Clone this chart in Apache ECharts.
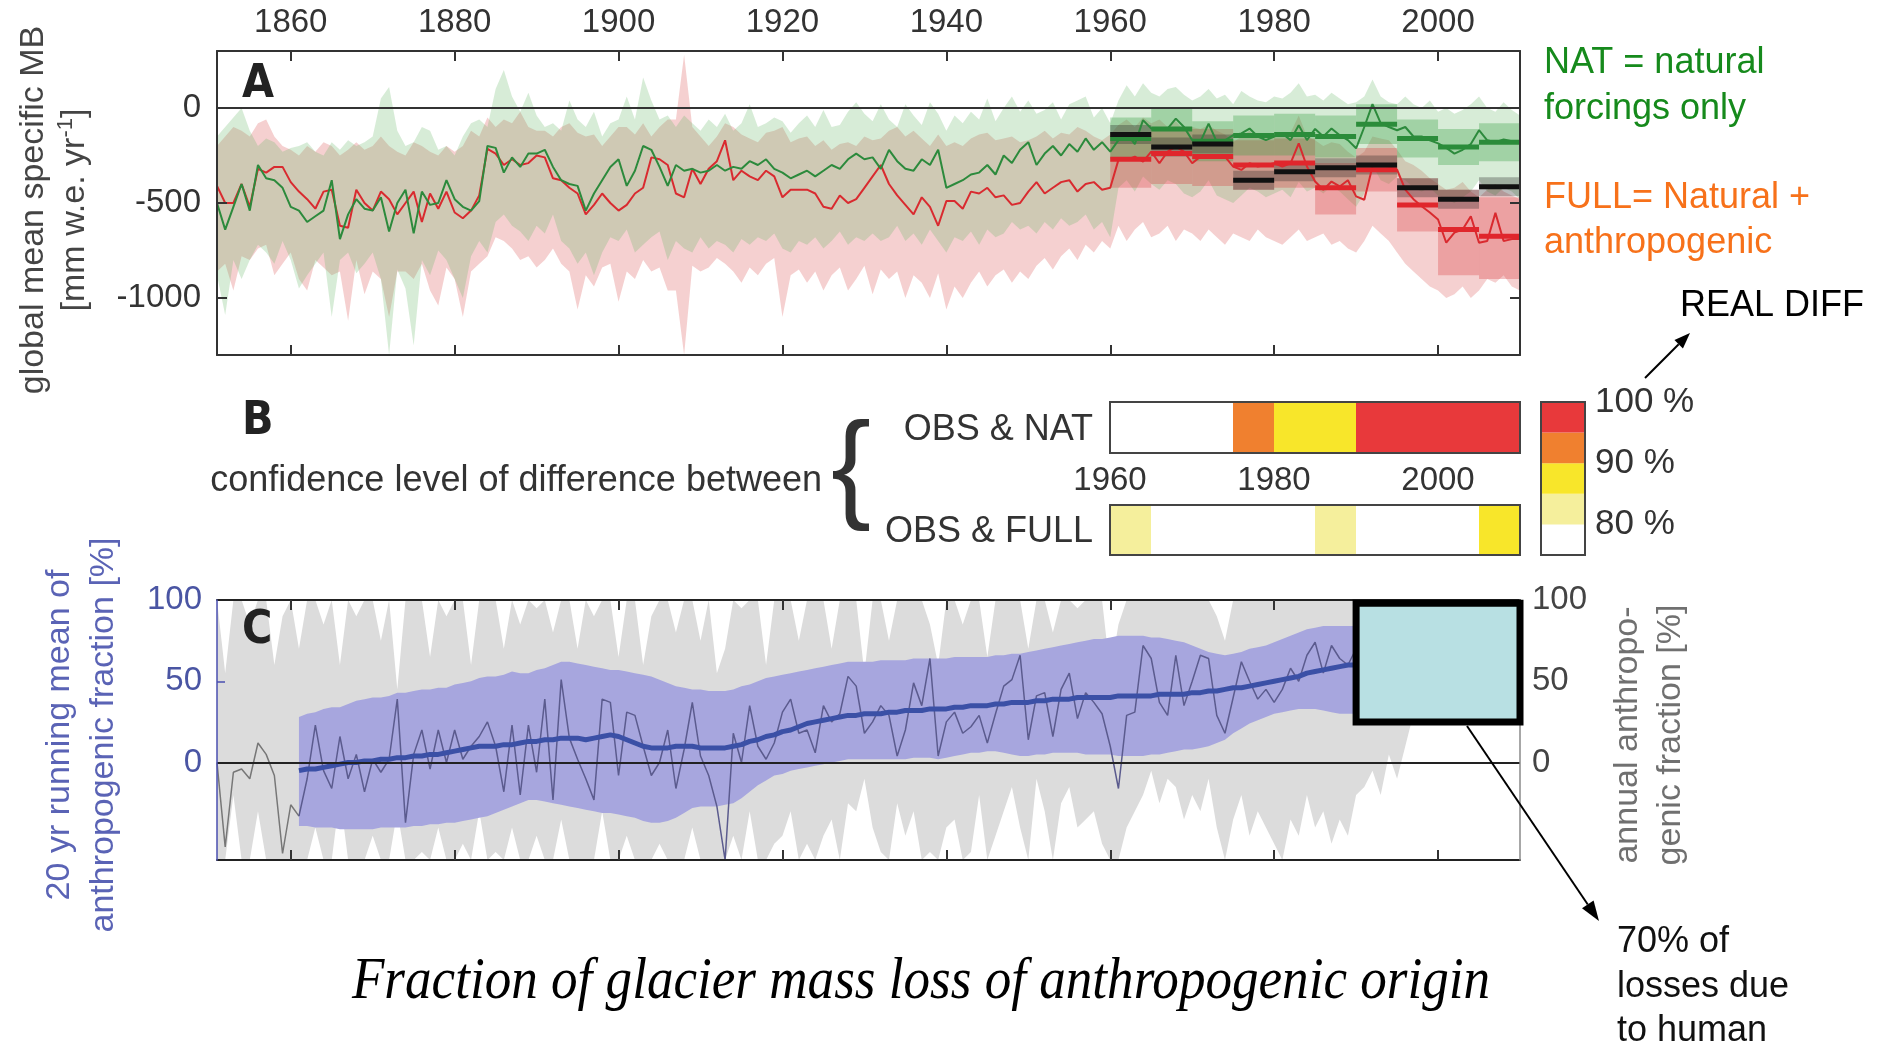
<!DOCTYPE html>
<html>
<head>
<meta charset="utf-8">
<title>Fraction of glacier mass loss of anthropogenic origin</title>
<script src="https://cdn.jsdelivr.net/npm/echarts@6.0.0/dist/echarts.min.js"></script>
<style>
html,body{margin:0;padding:0;background:#ffffff;}
#chart{width:1888px;height:1048px;}
</style>
</head>
<body>
<div id="chart"></div>
<script>
// ================= DATA =================
const YEAR0 = 1851;        // first year of annual series (panels A and C)
const RUN_YEAR0 = 1861;    // first year of the 20-yr running mean (panel C)
const yearTicks = [1860, 1880, 1900, 1920, 1940, 1960, 1980, 2000];
const mbTicks = [-1000, -500, 0];
const fracTicks = [0, 50, 100];
const bYearTicks = [1960, 1980, 2000];
const pctTicks = [80, 90, 100];

// Panel A: global mean specific mass balance (mm w.e./yr), 1851-2010
const natLine = [
 -500,-640,-520,-400,-540,-300,-370,-380,-420,-520,
 -540,-600,-570,-540,-380,-690,-560,-480,-530,-540,
 -470,-650,-500,-430,-660,-440,-510,-500,-380,-480,
 -520,-540,-490,-200,-210,-340,-260,-310,-240,-240,
 -220,-310,-380,-400,-410,-540,-450,-380,-310,-270,
 -410,-330,-200,-220,-310,-410,-300,-330,-320,-340,
 -330,-300,-330,-310,-320,-280,-300,-270,-320,-340,
 -370,-350,-330,-360,-330,-300,-320,-270,-240,-270,
 -260,-320,-220,-280,-320,-330,-270,-300,-220,-420,
 -400,-380,-350,-340,-300,-350,-250,-290,-220,-180,
 -300,-240,-200,-250,-190,-230,-160,-220,-180,-230,
 -169,-134,-190,-64,-108,-115,-108,-56,-100,-169,
 -178,-82,-178,-170,-143,-134,-108,-150,-169,-150,
 -134,-169,-91,-169,-110,-150,-108,-143,-169,-212,
 -100,20,-80,-100,-117,-100,-150,-150,-170,-186,
 -210,-240,-220,-190,-117,-170,-180,-165,-175,-186];
const fullLine = [
 -410,-500,-500,-400,-520,-320,-340,-310,-310,-390,
 -440,-480,-530,-440,-430,-620,-630,-430,-500,-540,
 -440,-480,-560,-500,-440,-600,-450,-530,-440,-550,
 -580,-540,-460,-215,-240,-300,-270,-300,-290,-250,
 -260,-370,-380,-420,-450,-560,-510,-450,-500,-540,
 -510,-450,-420,-260,-270,-300,-450,-470,-320,-400,
 -320,-280,-170,-380,-330,-360,-380,-330,-360,-470,
 -430,-430,-430,-450,-520,-530,-460,-500,-480,-420,
 -360,-300,-400,-460,-510,-560,-470,-520,-620,-490,
 -490,-530,-440,-450,-420,-470,-460,-510,-500,-440,
 -390,-450,-420,-390,-380,-440,-400,-390,-430,-420,
 -273,-273,-256,-282,-230,-291,-230,-204,-230,-291,
 -256,-247,-256,-256,-308,-326,-291,-308,-300,-291,
 -308,-291,-186,-308,-387,-430,-387,-413,-380,-465,
 -483,-308,-300,-310,-325,-430,-480,-517,-550,-587,
 -709,-656,-640,-570,-709,-700,-552,-700,-690,-690];
const natHi = [
 -150,-100,-50,0,-120,-200,-160,-180,-230,-210,
 -200,-180,-230,-250,-180,-220,-170,-200,-180,-150,
 50,110,-120,-200,-180,-100,-120,-220,-200,-250,
 -150,-80,-60,-100,100,200,60,-20,80,-40,
 -100,-80,-120,40,-60,-100,-20,-150,-80,-60,
 60,-60,160,40,-60,-40,-100,-40,-80,-120,
 -60,-100,-30,-120,-80,20,-100,-80,-50,-70,
 -130,-80,-40,-100,-10,-100,-90,-20,30,-30,
 -70,20,-60,-100,20,-40,-90,30,-30,-120,
 -40,-80,-20,-60,50,-70,0,60,-20,40,
 -30,-10,30,-60,20,40,60,-50,0,-80,
 40,120,60,130,80,60,100,110,70,40,
 60,100,50,70,20,90,60,40,30,60,
 50,80,130,60,70,40,80,50,20,30,
 60,150,60,30,20,60,20,0,40,-20,
 0,-30,-10,20,60,0,-20,30,-10,-40];
const natLo = [
 -880,-1090,-800,-900,-800,-720,-760,-820,-700,-800,
 -950,-880,-820,-760,-1100,-800,-760,-870,-820,-760,
 -900,-1300,-850,-950,-1250,-800,-880,-750,-800,-900,
 -1000,-780,-700,-760,-600,-560,-620,-650,-700,-620,
 -660,-560,-700,-740,-820,-760,-880,-760,-680,-700,
 -640,-760,-720,-680,-650,-800,-700,-740,-760,-680,
 -740,-700,-720,-760,-690,-720,-680,-700,-660,-740,
 -760,-700,-720,-680,-740,-700,-650,-720,-680,-700,
 -660,-700,-680,-620,-700,-660,-720,-640,-700,-760,
 -680,-700,-650,-720,-640,-680,-660,-600,-640,-620,
 -660,-600,-640,-580,-620,-600,-560,-640,-600,-680,
 -420,-380,-440,-360,-400,-430,-380,-400,-450,-470,
 -440,-380,-460,-480,-500,-460,-420,-440,-470,-450,
 -430,-470,-390,-440,-420,-450,-410,-440,-480,-520,
 -450,-300,-380,-400,-360,-380,-420,-440,-420,-460,
 -480,-500,-470,-440,-380,-440,-460,-420,-440,-480];
const fullHi = [
 -200,-150,-100,-120,-150,-80,-60,-150,-200,-220,
 -250,-200,-230,-180,-200,-250,-220,-180,-220,-200,
 -150,-200,-230,-250,-180,-200,-230,-250,-200,-230,
 -200,-120,-150,-50,-100,-60,-80,-20,-100,-120,
 -120,-150,-100,-80,-130,-150,-140,-200,-150,-100,
 -100,-140,-80,-150,-100,-60,-60,280,-100,-150,
 -200,-150,-80,-100,-140,-160,-180,-130,-120,-100,
 -180,-160,-150,-200,-170,-220,-190,-180,-200,-150,
 -170,-160,-120,-100,-150,-120,-160,-200,-140,-200,
 -180,-200,-160,-140,-130,-170,-160,-150,-180,-170,
 -150,-120,-160,-130,-140,-100,-120,-150,-170,-140,
 -90,-60,-100,-50,-80,-60,-100,-70,-120,-100,
 -110,-90,-120,-140,-180,-150,-120,-160,-140,-130,
 -150,-130,-40,-150,-170,-200,-180,-190,-230,-260,
 -230,-150,-160,-170,-220,-280,-300,-330,-370,-400,
 -430,-420,-390,-440,-470,-430,-400,-440,-460,-480];
const fullLo = [
 -860,-820,-960,-780,-800,-740,-720,-880,-820,-760,
 -900,-960,-800,-840,-880,-860,-1120,-800,-980,-860,
 -900,-1100,-860,-860,-900,-820,-960,-1040,-840,-900,
 -1100,-860,-820,-780,-680,-700,-740,-800,-780,-840,
 -800,-740,-820,-860,-1060,-880,-940,-840,-820,-1020,
 -860,-900,-800,-860,-840,-960,-960,-1300,-830,-860,
 -840,-790,-820,-860,-920,-840,-880,-820,-790,-1100,
 -880,-850,-920,-860,-960,-880,-840,-960,-900,-830,
 -980,-850,-900,-860,-1000,-880,-920,-1000,-870,-1060,
 -940,-1000,-920,-860,-940,-880,-850,-920,-860,-900,
 -830,-790,-850,-780,-740,-800,-720,-760,-700,-740,
 -620,-700,-640,-600,-680,-660,-620,-700,-640,-660,
 -700,-640,-680,-720,-660,-680,-700,-640,-680,-700,
 -720,-680,-640,-700,-680,-660,-720,-700,-740,-760,
 -700,-620,-660,-700,-760,-820,-860,-900,-940,-960,
 -1000,-980,-940,-1000,-960,-900,-920,-880,-940,-960];

// 5-year blocks after 1960 (panel A)
const binStart = [1960, 1965, 1970, 1975, 1980, 1985, 1990, 1995, 2000, 2005];
const BIN_WIDTH = 5;
const obsMean  = [-140,-205,-190,-380,-335,-315,-300,-420,-480,-415];
const obsLo    = [-190,-255,-240,-430,-385,-365,-350,-470,-530,-465];
const obsHi    = [-90,-155,-140,-330,-285,-265,-250,-370,-430,-365];
const natMean  = [-160,-110,-175,-145,-140,-150,-85,-160,-205,-180];
const natBoxLo = [-270,-220,-280,-250,-250,-260,-190,-260,-300,-280];
const natBoxHi = [-50,0,-70,-40,-30,-40,20,-60,-110,-80];
const fullMean = [-270,-240,-255,-300,-290,-420,-325,-510,-640,-675];
const fullBoxLo= [-420,-400,-410,-430,-420,-560,-440,-650,-880,-900];
const fullBoxHi= [-130,-110,-110,-170,-160,-290,-210,-370,-430,-470];

// Panel B: confidence level (%) of difference, per 5-year block (0 = below 80 %)
const natLevel  = [0, 0, 0, 90, 85, 85, 95, 95, 95, 95];
const fullLevel = [80, 0, 0, 0, 0, 80, 0, 0, 0, 85];
const scaleLevels = [75, 80, 85, 90, 95];

// Panel C: anthropogenic fraction (%)
const annualFrac = [
 0,-52,-6,-4,-10,12,5,-8,-56,-26,
 -33,-10,23,-5,-16,16,-10,5,-18,2,
 -6,2,39,-37,5,20,-4,20,0,20,
 2,10,16,25,10,-18,23,-20,23,-6,
 39,-23,51,15,2,-10,-23,39,37,-8,
 31,29,10,-8,0,20,-16,8,37,4,
 -8,-27,-60,18,0,35,10,2,12,31,
 39,18,20,6,35,25,30,53,47,18,
 25,35,29,4,20,49,35,64,4,25,
 31,18,22,29,12,30,47,51,66,14,
 41,43,16,45,55,27,43,37,30,10,
 -16,29,31,72,64,37,29,66,35,50,
 66,64,29,18,40,62,50,39,45,37,
 45,58,50,66,74,55,72,64,60,70];
const grayHi = [
 100,55,100,100,85,100,100,60,90,100,
 70,100,100,85,100,60,100,90,100,100,
 75,100,45,100,100,100,65,100,90,100,
 100,60,100,100,100,70,100,85,100,95,
 100,80,100,100,70,100,90,100,100,65,
 100,100,60,90,100,100,80,100,100,75,
 100,55,70,100,95,100,100,60,100,100,
 100,75,100,100,100,70,100,100,100,55,
 100,100,75,100,100,100,100,85,60,100,
 100,85,100,100,65,100,100,100,100,70,
 100,100,80,100,100,95,100,100,100,55,
 85,100,100,100,100,100,100,100,100,100,
 100,100,90,75,100,100,100,100,100,100,
 100,100,100,100,100,100,100,100,100,100,
 100,100,100,100,100,100,100,100,100,100,
 100,100,100,100,100,100,100,100,100,100];
const grayLo = [
 -60,-60,-20,-60,-60,-30,-60,-60,-60,-60,
 -60,-60,-40,-60,-60,-20,-60,-60,-60,-45,
 -60,-60,-30,-60,-60,-55,-60,-40,-60,-60,
 -50,-60,-30,-60,-55,-60,-40,-60,-60,-45,
 -60,-60,-35,-60,-60,-60,-60,-30,-60,-60,
 -45,-60,-60,-60,-50,-60,-60,-60,-40,-60,
 -60,-60,-60,-45,-60,-30,-60,-60,-50,-45,
 -30,-60,-50,-60,-45,-35,-60,-25,-30,-10,
 -40,-55,-60,-25,-45,-30,-60,-55,-60,-40,
 -35,-60,-55,-20,-60,-45,-30,-15,-40,-60,
 -10,-30,-60,-25,-15,-40,-35,-30,-50,-60,
 -60,-40,-30,-20,-5,-25,-10,-15,-35,-20,
 -30,-10,-40,-60,-35,-20,-45,-30,-40,-50,
 -60,-35,-45,-20,-40,-30,-50,-35,-45,-20,
 -15,-5,-20,5,-10,10,30,40,35,30,
 40,35,30,40,35,30,40,35,30,35];
const runHi = [
 28,30,31,33,34,34,36,38,39,40,
 40,41,43,43,44,45,45,46,46,48,
 49,50,52,53,53,54,56,55,55,57,
 58,60,62,62,61,60,59,58,57,57,
 56,55,54,53,51,49,47,46,45,45,
 44,44,44,45,47,48,50,52,53,54,
 55,56,57,58,59,60,61,62,62,62,
 62,63,63,63,63,64,64,64,64,64,
 65,65,65,65,65,66,66,67,67,68,
 69,70,71,72,73,74,75,76,76,77,
 78,78,78,78,77,77,76,75,74,72,
 70,68,67,66,67,68,70,71,72,74,
 76,78,80,82,83,84,84,84,84,84,
 84,84,83,82];
const runLo = [
 -39,-39,-40,-40,-40,-41,-41,-41,-41,-41,
 -40,-40,-40,-40,-39,-39,-38,-38,-37,-37,
 -36,-35,-34,-33,-31,-29,-27,-25,-23,-23,
 -24,-25,-26,-27,-28,-29,-30,-31,-31,-32,
 -33,-34,-36,-37,-37,-36,-34,-31,-28,-27,
 -27,-27,-26,-25,-22,-18,-14,-11,-8,-7,
 -5,-4,-3,-2,-1,0,1,2,2,2,
 2,2,2,2,2,3,3,3,2,3,
 4,5,6,6,7,7,6,5,4,4,
 5,5,6,6,6,6,5,5,5,5,
 4,4,4,4,5,5,6,7,8,8,
 9,10,12,14,18,21,24,26,28,30,
 31,32,33,33,33,32,31,30,30,30,
 30,30,31,31];
const runMean = [
 -5,-4,-4,-3,-2,-1,0,0,1,1,
 2,2,3,3,4,4,5,5,6,7,
 8,9,10,10,10,11,11,12,13,13,
 14,14,15,15,15,14,15,16,17,16,
 14,12,10,9,9,9,10,10,10,9,
 9,9,9,10,11,13,14,16,17,19,
 20,22,24,25,26,27,28,29,29,30,
 30,30,31,31,32,32,32,33,33,33,
 34,34,35,35,35,36,36,37,37,37,
 38,38,39,39,39,40,40,40,40,40,
 41,41,41,41,41,42,42,42,42,43,
 43,44,44,45,46,46,47,48,49,50,
 51,52,53,55,56,57,58,59,60,60];
const EARLY_END_YEAR = 1861;        // annual line drawn grey up to here
const boxYears = [1990, 2010];      // highlighted box (panel C), data coords
const boxFrac = [25, 98];

// ================= HELPERS =================
const FONT = '"Liberation Sans", Arial, Helvetica, sans-serif';
const plain = v => String(v);
const pairs = (y0, arr) => arr.map((v, i) => [y0 + i, v]);

function bandSeries(xi, yi, y0, lo, hi, color, z) {
  const rows = lo.map((v, i) => [y0 + i, v, hi[i]]);
  return {
    type: 'custom', xAxisIndex: xi, yAxisIndex: yi, z: z, silent: true,
    data: rows, encode: { x: 0, y: [1, 2] },
    renderItem: function (params, api) {
      if (params.dataIndexInside !== 0) return null;
      const top = rows.map(r => api.coord([r[0], r[2]]));
      const bot = rows.map(r => api.coord([r[0], r[1]])).reverse();
      return { type: 'polygon', shape: { points: top.concat(bot) }, style: { fill: color } };
    }
  };
}
function rectSeries(xi, yi, rows, styleFn, z) {
  // rows: [x0, x1, y0, y1, key]
  return {
    type: 'custom', xAxisIndex: xi, yAxisIndex: yi, z: z, silent: true,
    data: rows, encode: { x: [0, 1], y: [2, 3] },
    renderItem: function (params, api) {
      const a = api.coord([api.value(0), api.value(3)]);
      const b = api.coord([api.value(1), api.value(2)]);
      return { type: 'rect', shape: { x: a[0], y: a[1], width: b[0] - a[0], height: b[1] - a[1] },
               style: styleFn(api.value(4)) };
    }
  };
}
function stepSeries(xi, yi, means, color, z) {
  const rows = means.map((m, i) => [binStart[i], binStart[i] + BIN_WIDTH, m]);
  return {
    type: 'custom', xAxisIndex: xi, yAxisIndex: yi, z: z, silent: true,
    data: rows, encode: { x: [0, 1], y: 2 },
    renderItem: function (params, api) {
      const a = api.coord([api.value(0), api.value(2)]);
      const b = api.coord([api.value(1), api.value(2)]);
      return { type: 'line', shape: { x1: a[0], y1: a[1], x2: b[0], y2: b[1] },
               style: { stroke: color, lineWidth: 5 } };
    }
  };
}
const levelColor = { 0: '#ffffff', 75: '#ffffff', 80: '#f5ef9c', 85: '#f8e62a', 90: '#f0802f', 95: '#e8393b' };
const blockRows = (lo, hi) => lo.map((v, i) => [binStart[i], binStart[i] + BIN_WIDTH, v, hi[i], 0]);
const levelRows = levels => levels.map((lv, i) => [binStart[i], binStart[i] + BIN_WIDTH, 0, 1, lv]);
const fillOnly = c => () => ({ fill: c });
const levelFill = v => ({ fill: levelColor[v] });

const TEXT_DY = 3;
function txt(text, x, y, o) {
  o = o || {};
  return {
    type: 'text', x: x, y: y + TEXT_DY, z: 50, silent: true,
    rotation: o.rot || 0, scaleX: o.sx || 1,
    style: {
      text: text, x: 0, y: 0,
      fill: o.color || '#333',
      fontSize: o.size || 36,
      fontFamily: o.family || FONT,
      fontWeight: o.weight || 'normal',
      fontStyle: o.style || 'normal',
      textAlign: o.align || 'left', align: o.align || 'left',
      textVerticalAlign: 'middle', verticalAlign: 'middle',
      rich: o.rich
    }
  };
}
function arrow(x1, y1, x2, y2, hl, hw) {
  const dx = x2 - x1, dy = y2 - y1, L = Math.hypot(dx, dy);
  const ux = dx / L, uy = dy / L, px = -uy, py = ux;
  const bx = x2 - ux * hl, by = y2 - uy * hl;
  return [
    { type: 'line', z: 50, silent: true, shape: { x1: x1, y1: y1, x2: bx, y2: by }, style: { stroke: '#000', lineWidth: 2 } },
    { type: 'polygon', z: 50, silent: true, shape: { points: [[x2, y2], [bx + px * hw, by + py * hw], [bx - px * hw, by - py * hw]] }, style: { fill: '#000' } }
  ];
}

// ================= AXES =================
const dark = { color: '#333', width: 2 };
const xA = (pos, labels) => ({
  gridIndex: 0, type: 'value', position: pos, min: YEAR0, max: 2010, z: 6,
  axisLine: { show: true, onZero: false, lineStyle: dark },
  axisTick: { show: true, inside: true, length: 10, customValues: yearTicks, lineStyle: dark },
  axisLabel: labels ? { show: true, customValues: yearTicks, formatter: plain, fontSize: 33, color: '#333', fontFamily: FONT, margin: 12 } : { show: false },
  splitLine: { show: false }
});
const xC = pos => ({
  gridIndex: 4, type: 'value', position: pos, min: YEAR0, max: 2010, z: 6,
  axisLine: { show: true, onZero: false, lineStyle: { color: '#222', width: 2 } },
  axisTick: { show: true, inside: true, length: 10, customValues: yearTicks, lineStyle: dark },
  axisLabel: { show: false }, splitLine: { show: false }
});

const option = {
  animation: false,
  backgroundColor: '#ffffff',
  grid: [
    { left: 217, top: 51, width: 1303, height: 304, outerBoundsMode: 'none', containLabel: false },
    { left: 1110, top: 402, width: 410, height: 51, show: true, z: 10, backgroundColor: 'transparent', borderColor: '#444', borderWidth: 2, outerBoundsMode: 'none' },
    { left: 1110, top: 505, width: 410, height: 50, show: true, z: 10, backgroundColor: 'transparent', borderColor: '#444', borderWidth: 2, outerBoundsMode: 'none' },
    { left: 1541, top: 402, width: 44, height: 153, show: true, z: 10, backgroundColor: 'transparent', borderColor: '#444', borderWidth: 2, outerBoundsMode: 'none' },
    { left: 217, top: 600, width: 1303, height: 260, outerBoundsMode: 'none', containLabel: false }
  ],
  xAxis: [
    xA('top', true),
    xA('bottom', false),
    { gridIndex: 1, type: 'value', position: 'bottom', min: 1960, max: 2010,
      axisLine: { show: false }, axisTick: { show: false }, splitLine: { show: false },
      axisLabel: { show: true, customValues: bYearTicks, formatter: plain, showMinLabel: true, fontSize: 33, color: '#333', fontFamily: FONT, margin: 11 } },
    { gridIndex: 2, type: 'value', min: 1960, max: 2010, show: false },
    { gridIndex: 3, type: 'value', min: 0, max: 1, show: false },
    xC('bottom'),
    xC('top')
  ],
  yAxis: [
    { gridIndex: 0, type: 'value', position: 'left', min: -1300, max: 300, z: 6,
      axisLine: { show: true, onZero: false, lineStyle: dark },
      axisTick: { show: true, inside: true, length: 10, customValues: mbTicks, lineStyle: dark },
      axisLabel: { show: true, customValues: mbTicks, formatter: plain, fontSize: 33, color: '#333', fontFamily: FONT, margin: 16 },
      splitLine: { show: false } },
    { gridIndex: 0, type: 'value', position: 'right', min: -1300, max: 300, z: 6,
      axisLine: { show: true, onZero: false, lineStyle: dark },
      axisTick: { show: true, inside: true, length: 10, customValues: mbTicks, lineStyle: dark },
      axisLabel: { show: false }, splitLine: { show: false } },
    { gridIndex: 1, type: 'value', min: 0, max: 1, show: false },
    { gridIndex: 2, type: 'value', min: 0, max: 1, show: false },
    { gridIndex: 3, type: 'value', position: 'right', min: 75, max: 100,
      axisLine: { show: false }, axisTick: { show: false }, splitLine: { show: false },
      axisLabel: { show: true, customValues: pctTicks, showMaxLabel: true, formatter: v => v + ' %', fontSize: 35, color: '#333', fontFamily: FONT, margin: 10 } },
    { gridIndex: 4, type: 'value', position: 'left', min: -60, max: 100, z: 7,
      axisLine: { show: true, onZero: false, lineStyle: { color: '#4a4fb0', width: 1.5 } },
      axisTick: { show: true, inside: true, length: 8, customValues: [50], lineStyle: { color: '#4a4fb0', width: 1.5 } },
      axisLabel: { show: true, customValues: fracTicks, formatter: plain, showMaxLabel: true, fontSize: 33, color: '#4a55a3', fontFamily: FONT, margin: 15 },
      splitLine: { show: false } },
    { gridIndex: 4, type: 'value', position: 'right', min: -60, max: 100, z: 7,
      axisLine: { show: true, onZero: false, lineStyle: { color: '#8a8a8a', width: 1.5 } },
      axisTick: { show: false },
      axisLabel: { show: true, customValues: fracTicks, formatter: plain, showMaxLabel: true, fontSize: 33, color: '#444', fontFamily: FONT, margin: 12 },
      splitLine: { show: false } }
  ],
  series: [
    // ---- Panel A ----
    bandSeries(0, 0, YEAR0, fullLo, fullHi, 'rgba(222,92,92,0.29)', 1),
    bandSeries(0, 0, YEAR0, natLo, natHi, 'rgba(95,180,95,0.25)', 1),
    rectSeries(0, 0, blockRows(fullBoxLo, fullBoxHi), fillOnly('rgba(214,52,56,0.30)'), 2),
    rectSeries(0, 0, blockRows(natBoxLo, natBoxHi), fillOnly('rgba(60,160,70,0.34)'), 2),
    rectSeries(0, 0, blockRows(obsLo, obsHi), fillOnly('rgba(30,30,30,0.30)'), 2),
    { type: 'line', xAxisIndex: 0, yAxisIndex: 0, z: 3, silent: true, data: pairs(YEAR0, fullLine),
      showSymbol: false, symbol: 'none', lineStyle: { color: '#d92a2f', width: 2 } },
    { type: 'line', xAxisIndex: 0, yAxisIndex: 0, z: 3, silent: true, data: pairs(YEAR0, natLine),
      showSymbol: false, symbol: 'none', lineStyle: { color: '#2c8a3c', width: 2 },
      markLine: { silent: true, symbol: 'none', label: { show: false }, data: [{ yAxis: 0 }],
                  lineStyle: { color: '#333', width: 2, type: 'solid' } } },
    stepSeries(0, 0, fullMean, '#e0262c', 4),
    stepSeries(0, 0, natMean, '#2b8c3a', 4),
    stepSeries(0, 0, obsMean, '#111111', 4),
    // ---- Panel B ----
    rectSeries(2, 2, levelRows(natLevel), levelFill, 2),
    rectSeries(3, 3, levelRows(fullLevel), levelFill, 2),
    rectSeries(4, 4, scaleLevels.map(lv => [0, 1, lv, lv + BIN_WIDTH, lv]), levelFill, 2),
    // ---- Panel C ----
    bandSeries(5, 5, YEAR0, grayLo, grayHi, '#dcdcdc', 1),
    bandSeries(5, 5, RUN_YEAR0, runLo, runHi, '#a7a6de', 2),
    { type: 'line', xAxisIndex: 5, yAxisIndex: 5, z: 3, silent: true,
      data: pairs(YEAR0, annualFrac).filter(p => p[0] <= EARLY_END_YEAR),
      showSymbol: false, symbol: 'none', lineStyle: { color: '#777777', width: 1.5 } },
    { type: 'line', xAxisIndex: 5, yAxisIndex: 5, z: 3, silent: true,
      data: pairs(YEAR0, annualFrac).filter(p => p[0] >= EARLY_END_YEAR),
      showSymbol: false, symbol: 'none', lineStyle: { color: '#5b5b8e', width: 1.5 },
      markLine: { silent: true, symbol: 'none', label: { show: false }, data: [{ yAxis: 0 }],
                  lineStyle: { color: '#222', width: 2, type: 'solid' } } },
    { type: 'line', xAxisIndex: 5, yAxisIndex: 5, z: 4, silent: true, data: pairs(RUN_YEAR0, runMean),
      showSymbol: false, symbol: 'none', lineStyle: { color: '#3b50a6', width: 5 } },
    rectSeries(5, 5, [[boxYears[0], boxYears[1], boxFrac[0], boxFrac[1], 0]],
      () => ({ fill: '#b8e0e3', stroke: '#000000', lineWidth: 7 }), 12)
  ],
  graphic: {
    elements: [
      txt('A', 242, 82, { size: 46, weight: 'bold', family: '"Liberation Sans Narrow", "DejaVu Sans Condensed", Arial, sans-serif', color: '#222' }),
      txt('B', 242, 419, { size: 46, weight: 'bold', family: '"Liberation Sans Narrow", "DejaVu Sans Condensed", Arial, sans-serif', color: '#222' }),
      txt('C', 242, 628, { size: 46, weight: 'bold', family: '"Liberation Sans Narrow", "DejaVu Sans Condensed", Arial, sans-serif', color: '#222' }),
      txt('global mean specific MB', 34, 207, { size: 34, rot: Math.PI / 2, align: 'center', color: '#444' }),
      txt('{n|[mm w.e. yr}{s|-1}{n|]}', 75, 207, { size: 34, rot: Math.PI / 2, align: 'center', color: '#444',
        rich: { n: { fontSize: 34, fontFamily: FONT, fill: '#444', lineHeight: 40 },
                s: { fontSize: 22, fontFamily: FONT, fill: '#444', lineHeight: 40, verticalAlign: 'top', padding: [0, 0, 14, 0] } } }),
      txt('confidence level of difference between', 822, 478, { size: 36, align: 'right', color: '#333' }),
      txt('{', 851, 470, { size: 120, align: 'center', color: '#333' }),
      txt('OBS & NAT', 1093, 427, { size: 36, align: 'right', color: '#333' }),
      txt('OBS & FULL', 1093, 529, { size: 36, align: 'right', color: '#333' }),
      txt('NAT = natural', 1544, 60, { size: 36, color: '#168a1c' }),
      txt('forcings only', 1544, 106, { size: 36, color: '#168a1c' }),
      txt('FULL= Natural +', 1544, 195, { size: 36, color: '#f7711a' }),
      txt('anthropogenic', 1544, 240, { size: 36, color: '#f7711a' }),
      txt('REAL DIFF', 1680, 303, { size: 36, color: '#000' }),
      txt('20 yr running mean of', 60, 732, { size: 34, rot: Math.PI / 2, align: 'center', color: '#5a63b5' }),
      txt('anthropogenic fraction [%]', 104, 732, { size: 34, rot: Math.PI / 2, align: 'center', color: '#5a63b5' }),
      txt('annual anthropo-', 1628, 732, { size: 34, rot: Math.PI / 2, align: 'center', color: '#707070' }),
      txt('genic fraction [%]', 1671, 732, { size: 34, rot: Math.PI / 2, align: 'center', color: '#707070' }),
      txt('70% of', 1617, 939, { size: 36, color: '#111' }),
      txt('losses due', 1617, 984, { size: 36, color: '#111' }),
      txt('to human', 1617, 1028, { size: 36, color: '#111' }),
      txt('Fraction of glacier mass loss of anthropogenic origin', 921, 979,
          { size: 60, style: 'italic', family: '"Liberation Serif", "Times New Roman", serif', align: 'center', color: '#000', sx: 0.885 })
    ].concat(arrow(1645, 378, 1690, 333, 16, 6), arrow(1467, 726, 1599, 921, 20, 7))
  }
};

const chart = echarts.init(document.getElementById('chart'), null, { renderer: 'canvas' });
chart.setOption(option);
</script>
</body>
</html>
